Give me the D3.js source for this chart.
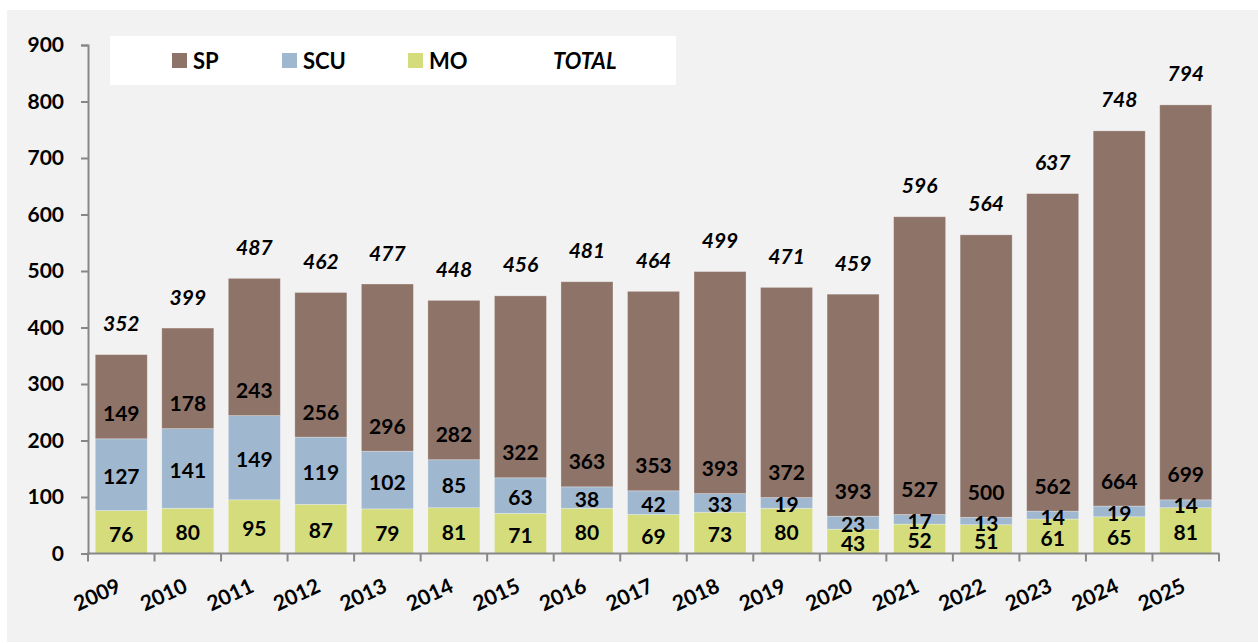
<!DOCTYPE html>
<html>
<head>
<meta charset="utf-8">
<script src="https://cdn.jsdelivr.net/npm/d3@7"></script>
<style>
  html, body { margin: 0; padding: 0; background: #fff; }
  svg { display: block; }
  text { font-family: Lato, "Open Sans", sans-serif; font-weight: bold; fill: #000; }
</style>
</head>
<body>
<svg id="chart" width="1258" height="643"></svg>
<script>
const years = ["2009","2010","2011","2012","2013","2014","2015","2016","2017",
               "2018","2019","2020","2021","2022","2023","2024","2025"];
const mo  = [76, 80, 95, 87, 79, 81, 71, 80, 69, 73, 80, 43, 52, 51, 61, 65, 81];
const scu = [127, 141, 149, 119, 102, 85, 63, 38, 42, 33, 19, 23, 17, 13, 14, 19, 14];
const sp  = [149, 178, 243, 256, 296, 282, 322, 363, 353, 393, 372, 393, 527, 500, 562, 664, 699];
const total = [352, 399, 487, 462, 477, 448, 456, 481, 464, 499, 471, 459, 596, 564, 637, 748, 794];
const yTicks = [0, 100, 200, 300, 400, 500, 600, 700, 800, 900];

const seriesNames = ["SP", "SCU", "MO"];
const colors = { SP: "#8e7368", SCU: "#a0b8cf", MO: "#d4dc7b" };

const svg = d3.select("#chart");

// fond gris de la zone du graphique
svg.append("rect")
    .attr("x", 7).attr("y", 10)
    .attr("width", 1258 - 7).attr("height", 642 - 10)
    .attr("fill", "#f2f2f2");

const x = d3.scaleBand()
    .domain(years)
    .range([88, 1219])
    .paddingInner(0.218)
    .paddingOuter(0.109);

const y = d3.scaleLinear()
    .domain([0, 900])
    .range([553.5, 45]);

// empilement MO -> SCU -> SP
const rows = years.map((yr, i) => ({ year: yr, MO: mo[i], SCU: scu[i], SP: sp[i], total: total[i] }));
const stack = d3.stack().keys(["MO", "SCU", "SP"]);
const layers = stack(rows);

const g = svg.append("g");

layers.forEach(layer => {
    g.append("g")
        .attr("fill", colors[layer.key])
        .selectAll("rect")
        .data(layer)
        .join("rect")
        .attr("x", d => x(d.data.year))
        .attr("width", x.bandwidth())
        .attr("y", d => y(d[1]))
        .attr("height", d => y(d[0]) - y(d[1]))
        .attr("stroke", "#ffffff")
        .attr("stroke-opacity", 0.35)
        .attr("stroke-width", 0.8);
});

// étiquettes des segments
layers.forEach(layer => {
    g.append("g")
        .selectAll("text")
        .data(layer)
        .join("text")
        .attr("x", d => x(d.data.year) + x.bandwidth() / 2)
        .attr("y", d => layer.key === "SP"
            ? y(d[0]) - 25
            : (y(d[0]) + y(d[1])) / 2 + 2)
        .attr("dy", "0.36em")
        .attr("text-anchor", "middle")
        .attr("font-size", 21)
        .text(d => d.data[layer.key]);
});

// totaux en italique au-dessus des barres
g.append("g")
    .selectAll("text")
    .data(rows)
    .join("text")
    .attr("x", d => x(d.year) + x.bandwidth() / 2)
    .attr("y", d => y(d.total) - 31)
    .attr("dy", "0.36em")
    .attr("text-anchor", "middle")
    .attr("font-size", 21)
    .attr("font-style", "italic")
    .text(d => d.total);

// axe Y
const yAxis = svg.append("g")
    .attr("transform", "translate(88,0)")
    .call(d3.axisLeft(y).tickValues(yTicks).tickSize(7).tickPadding(17).tickFormat(d3.format("d")));
yAxis.select(".domain").attr("stroke", "#878787").attr("stroke-width", 2);
yAxis.selectAll(".tick line").attr("stroke", "#878787").attr("stroke-width", 2);
yAxis.selectAll(".tick text")
    .attr("font-size", 21)
    .attr("font-family", "Lato, sans-serif")
    .attr("font-weight", "bold")
    .attr("fill", "#000");

// axe X : traits aux limites des catégories
const xAxis = svg.append("g");
xAxis.append("line")
    .attr("x1", 87).attr("x2", 1219.5)
    .attr("y1", y(0)).attr("y2", y(0))
    .attr("stroke", "#878787").attr("stroke-width", 2);
const step = x.step();
const bounds = d3.range(years.length + 1).map(i => 88 + i * step);
xAxis.selectAll("line.tick")
    .data(bounds)
    .join("line")
    .attr("class", "tick")
    .attr("x1", d => d).attr("x2", d => d)
    .attr("y1", y(0)).attr("y2", y(0) + 8)
    .attr("stroke", "#878787").attr("stroke-width", 2);

xAxis.selectAll("text")
    .data(years)
    .join("text")
    .attr("text-anchor", "end")
    .attr("font-size", 21)
    .attr("transform", d => `translate(${x(d) + x.bandwidth() / 2 + 1},591) rotate(-25)`)
    .text(d => d);

// légende
const legend = svg.append("g");
legend.append("rect")
    .attr("x", 110).attr("y", 36)
    .attr("width", 566).attr("height", 49)
    .attr("fill", "#ffffff");

const legendX = { SP: 172, SCU: 282, MO: 408 };
seriesNames.forEach(name => {
    legend.append("rect")
        .attr("x", legendX[name]).attr("y", 53)
        .attr("width", 15).attr("height", 15)
        .attr("fill", colors[name]);
    legend.append("text")
        .attr("x", legendX[name] + 21).attr("y", 69)
        .attr("font-size", 22)
        .text(name);
});
legend.append("text")
    .attr("x", 553).attr("y", 69)
    .attr("font-size", 22)
    .attr("font-style", "italic")
    .text("TOTAL");
</script>
</body>
</html>
